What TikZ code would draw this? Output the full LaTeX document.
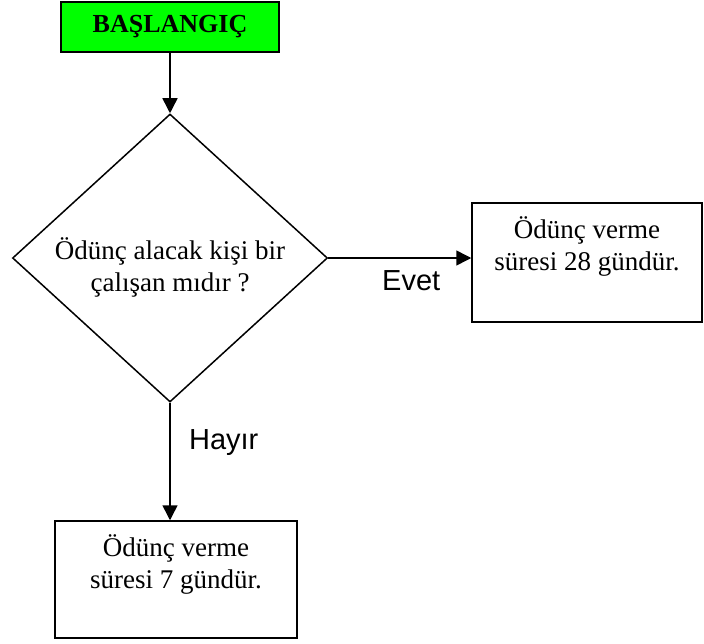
\documentclass[tikz,border=0pt]{standalone}
\usepackage{fontspec}
\setmainfont{Liberation Serif}
\newfontfamily\arialfont{Liberation Sans}
\usepackage{tikz}
\usetikzlibrary{shapes.geometric,arrows.meta}

\begin{document}
\begin{tikzpicture}[x=1pt,y=-1pt,line width=1.5pt,
    box/.style={rectangle,draw,align=center,inner sep=0pt,font=\fontsize{27}{32}\selectfont},
    cond/.style={diamond,draw,align=center,inner sep=0pt,font=\fontsize{27}{32}\selectfont},
    arr/.style={-{Triangle[length=15pt,width=15pt]}},
    lbl/.style={font=\arialfont\fontsize{29}{34}\selectfont}]
    \useasboundingbox (0,0) rectangle (704,643);
    \node[box] (start) [fill={rgb,255:red,0;green,255;blue,0}, minimum width=218pt, minimum height=50pt,
        font=\fontsize{26}{31}\selectfont\bfseries] at (170,27) {BAŞLANGIÇ};
    \node[cond] (q) [minimum width=315pt, minimum height=288pt] at (170,258)
        {\makebox[0pt]{\parbox[c][72pt][b]{236pt}{\centering Ödünç alacak kişi bir\\çalışan mıdır ?}}};
    \node[box] (yes) [minimum width=230pt, minimum height=119pt, text depth=38pt] at (587,262.5)
        {Ödünç verme\\süresi 28 gündür.};
    \node[box] (no) [minimum width=242pt, minimum height=117pt, text depth=36pt] at (176,579.5)
        {Ödünç verme\\süresi 7 gündür.};
    \path
    (start) edge[arr] (q)
    (q.east) edge[arr] node[lbl, pos=0.58, below=8pt] {Evet} (q.east -| yes.west)
    (q.south) edge[arr] node[lbl, pos=0.34, right=15pt] {Hayır} (q.south |- no.north);
\end{tikzpicture}
\end{document}
